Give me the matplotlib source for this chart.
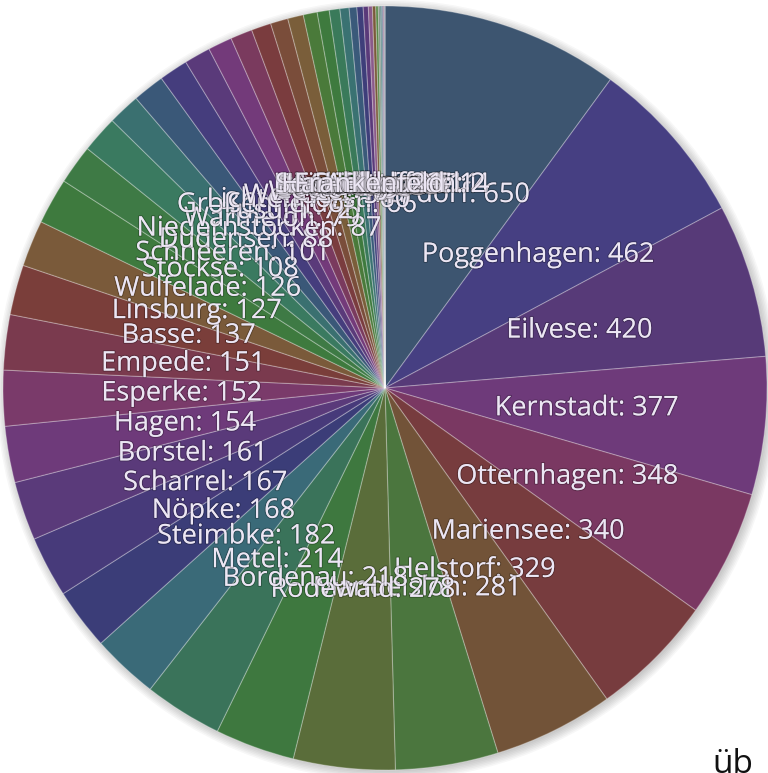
import matplotlib
matplotlib.use("Agg")
import matplotlib.pyplot as plt
import matplotlib.patheffects as pe
from matplotlib.patches import Circle

# villages, sorted by value (descending)
names = ["Mardorf", "Poggenhagen", "Eilvese", "Kernstadt", "Otternhagen", "Mariensee",
         "Helstorf", "Mandelsloh", "Rodewald", "Bordenau", "Metel", "Steimbke", "Nöpke",
         "Scharrel", "Borstel", "Hagen", "Esperke", "Empede", "Basse", "Linsburg",
         "Wulfelade", "Stöckse", "Schneeren", "Dudensen", "Niedernstöcken",
         "Warmeloh", "Husum", "Großenheidorn", "Lichtenhorst", "Wenden", "Welze", "Lutter",
         "Suttorf", "Evensen", "Bevensen", "Averhoy", "Amedorf", "Laderholz", "Vesbeck",
         "Himmelreich", "Gilten", "Grethem", "Büchten", "Sonnenborstel", "Holtorf",
         "Hämelhausen", "Eilte", "Ahlden", "Frankenfeld"]
values = [650, 462, 420, 377, 348, 340, 329, 281, 278, 218, 214, 182, 168,
          167, 161, 154, 152, 151, 137, 127, 126, 108, 101, 88, 87,
          79, 72, 66, 60, 54, 48, 43, 38, 33, 29, 25, 21, 17, 14,
          11, 9, 7, 5, 4, 3, 2, 2, 1, 1]
colors = ["#3d5570", "#463f82", "#573a78", "#6e3a7a", "#7a3862", "#773c3e",
          "#725338", "#4b763e", "#5a6d3a", "#3e783f", "#3a735a", "#3a6a78", "#3b3d78",
          "#473a7a", "#5a3a7a", "#6e3a7a", "#7a3a6a", "#7a3a4e", "#7a3e3a", "#7a5a3a",
          "#3e7a3e", "#3e7a45", "#3a7a60", "#3a7070", "#3a5878",
          "#453d7d", "#5a3a7a", "#733a7a", "#7a3a5e", "#7a3c3e", "#7a4d3a", "#7a5e3a",
          "#4a7a3a", "#3e7a3e", "#3a7a5a", "#3a7272", "#3a5a7a", "#3e3e7a", "#5a3a7a",
          "#8a5a8a", "#7a5a3a", "#5a8a4a", "#7a8a7a", "#3a7272", "#3a5a7a", "#5a3a7a",
          "#7a3a5e", "#8a8a9a", "#3d5570"]

labels = [f"{n}: {v}" for n, v in zip(names, values)]

fig = plt.figure(figsize=(7.68, 7.73), dpi=100)
ax = fig.add_axes([0, 0, 1, 1])

# soft shadow behind the pie
for i in range(8):
    ax.add_patch(Circle((387, 383), 380 + i * 1.5, color="#000000",
                        alpha=0.03, lw=0, zorder=0))

wedges, texts = ax.pie(values, colors=colors, labels=labels,
                       startangle=90, counterclock=False,
                       center=(385, 385), radius=382,
                       labeldistance=203 / 382,
                       wedgeprops=dict(edgecolor=(1, 1, 1, 0.28), linewidth=0.8),
                       textprops=dict(color="#ece6f4", fontsize=19.5,
                                      family=["Open Sans", "DejaVu Sans"]))
for t in texts:
    t.set_ha("center")
    t.set_va("center")
    t.set_path_effects([pe.withStroke(linewidth=1.5, foreground=(0, 0, 0, 0.25))])

ax.set_xlim(0, 768)
ax.set_ylim(0, 773)
ax.set_aspect("equal")
ax.axis("off")

# cut-off caption at the bottom right, as in the source screenshot
fig.text(712 / 768, 0.0, "üb", fontsize=24, color="#111111",
         family=["Open Sans", "DejaVu Sans"], ha="left", va="baseline")

fig.savefig("out.png", dpi=100)
